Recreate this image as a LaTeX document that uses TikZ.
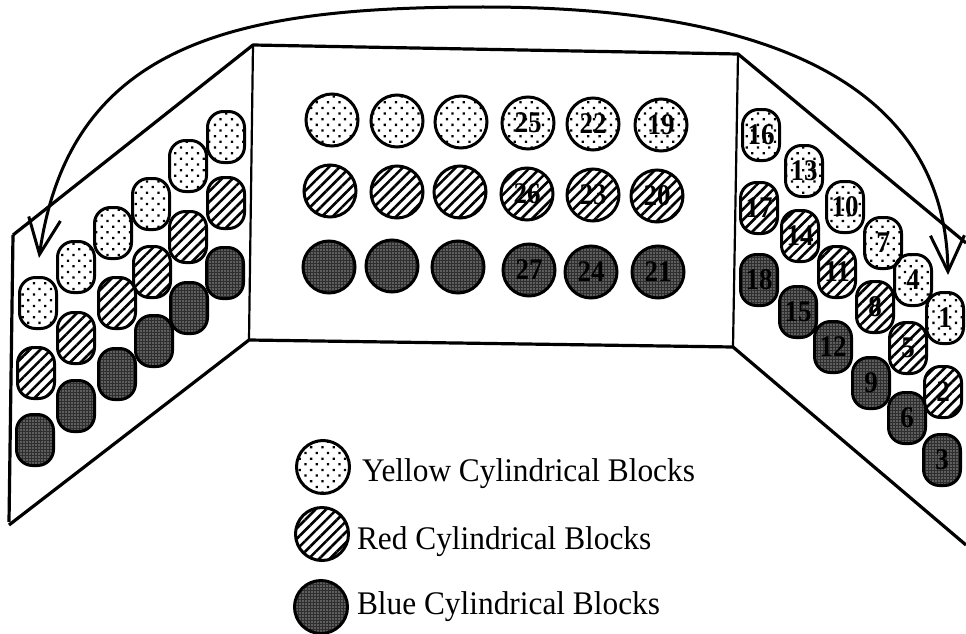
\documentclass[tikz,border=0pt]{standalone}
\usepackage{fontspec}
\setmainfont{Liberation Serif}
\newfontfamily\keyfont[FakeStretch=0.95]{Liberation Serif}
\newfontfamily\numfont[FakeStretch=0.9]{Liberation Serif}
\usetikzlibrary{patterns.meta,arrows.meta}

\begin{document}
\begin{tikzpicture}[x=1pt,y=-1pt,
  every node/.style={inner sep=0pt, outer sep=0pt},
  blk/.style={draw, line width=3pt, font=\numfont\bfseries\fontsize{30}{30}\selectfont},
  pill/.style={blk, rectangle, rounded corners=16pt, minimum width=37pt, minimum height=51pt},
  disc/.style={blk, circle, minimum size=52pt},
  yellowpat/.style={pattern={Dots[distance=8pt, radius=1.6pt, angle=45]}},
  redpat/.style={pattern={Lines[angle=45, distance=7.5pt, line width=2.6pt]}},
  bluepat/.style={preaction={fill=black!82}, pattern={Dots[distance=3pt, radius=0.7pt]}, pattern color=white},
  keytext/.style={anchor=base west, font=\keyfont\fontsize{33}{33}\selectfont},
  wall/.style={line width=3.2pt, line join=round},
  edge/.style={line width=2.2pt},
  turn/.style={line width=3pt, {Straight Barb[length=36pt, width=32pt]}-{Straight Barb[length=36pt, width=34pt]}}]
\useasboundingbox (0,0) rectangle (966,634);

% the three walls
\coordinate (lt) at (13,235);
\coordinate (lb) at (9,525);
\coordinate (mtl) at (253,45);
\coordinate (mtr) at (738,54);
\coordinate (mbl) at (249,340);
\coordinate (mbr) at (733,347);
\coordinate (rt) at (966,243);
\coordinate (rb) at (966,545);
\draw[wall] (lt) -- (mtl) -- (mtr) -- (rt);
\draw[wall] (lt) -- ([yshift=3pt]lb);
\draw[wall] (lb) -- (mbl) -- (mbr) -- (rb);
\draw[edge] (mtl) -- (mbl);
\draw[edge] (mtr) -- (mbr);

% left wall
\node[pill,yellowpat] (l1) at (38,303) {};
\node[pill,redpat] (l2) at (36,373) {};
\node[pill,bluepat] (l3) at (35,440) {};
\node[pill,yellowpat] (l4) at (76,267) {};
\node[pill,redpat] (l5) at (76,338) {};
\node[pill,bluepat] (l6) at (76,406) {};
\node[pill,yellowpat] (l7) at (113,233) {};
\node[pill,redpat] (l8) at (117,303) {};
\node[pill,bluepat] (l9) at (117,374) {};
\node[pill,yellowpat] (l10) at (151,204) {};
\node[pill,redpat] (l11) at (152,272) {};
\node[pill,bluepat] (l12) at (154,341) {};
\node[pill,yellowpat] (l13) at (188,166) {};
\node[pill,redpat] (l14) at (188,237) {};
\node[pill,bluepat] (l15) at (189,308) {};
\node[pill,yellowpat] (l16) at (226,137) {};
\node[pill,redpat] (l17) at (226,203) {};
\node[pill,bluepat] (l18) at (225,273) {};

% middle wall
\node[disc,yellowpat] (m1) at (332,120) {};
\node[disc,yellowpat] (m2) at (397,121) {};
\node[disc,yellowpat] (m3) at (461,122) {};
\node[disc,yellowpat] (b25) at (528,123) {25};
\node[disc,yellowpat] (b22) at (593,124) {22};
\node[disc,yellowpat] (b19) at (661,125) {19};
\node[disc,redpat] (m4) at (330,191) {};
\node[disc,redpat] (m5) at (397,192) {};
\node[disc,redpat] (m6) at (460,192) {};
\node[disc,redpat] (b26) at (527,194) {26};
\node[disc,redpat] (b23) at (593,195) {23};
\node[disc,redpat] (b20) at (657,196) {20};
\node[disc,bluepat] (m7) at (329,267) {};
\node[disc,bluepat] (m8) at (392,266) {};
\node[disc,bluepat] (m9) at (458,267) {};
\node[disc,bluepat] (b27) at (529,270) {27};
\node[disc,bluepat] (b24) at (591,272) {24};
\node[disc,bluepat] (b21) at (658,272) {21};

% right wall
\node[pill,yellowpat] (b16) at (761,135) {16};
\node[pill,yellowpat] (b13) at (804,171) {13};
\node[pill,yellowpat] (b10) at (845,207) {10};
\node[pill,yellowpat] (b7) at (883,243) {7};
\node[pill,yellowpat] (b4) at (913,280) {4};
\node[pill,yellowpat] (b1) at (945,318) {1};
\node[pill,redpat] (b17) at (759,208) {17};
\node[pill,redpat] (b14) at (800,236) {14};
\node[pill,redpat] (b11) at (837,272) {11};
\node[pill,redpat] (b8) at (875,307) {8};
\node[pill,redpat] (b5) at (908,348) {5};
\node[pill,redpat] (b2) at (943,392) {2};
\node[pill,bluepat] (b18) at (759,280) {18};
\node[pill,bluepat] (b15) at (798,312) {15};
\node[pill,bluepat] (b12) at (833,347) {12};
\node[pill,bluepat] (b9) at (871,383) {9};
\node[pill,bluepat] (b6) at (907,418) {6};
\node[pill,bluepat] (b3) at (942,460) {3};

% the turn over the top
\coordinate (tipL) at (39,258);
\coordinate (peak) at (483,7);
\coordinate (tipR) at (948,275);
\draw[turn] (tipL) .. controls (70,40) and (240,7) .. (peak) .. controls (720,7) and (945,60) .. (tipR);

% key
\node[disc,yellowpat,minimum size=53pt] (ky) at (323,467) {};
\node[disc,redpat,minimum size=53pt] (kr) at (322,534) {};
\node[disc,bluepat,minimum size=53pt] (kb) at (321,607) {};
\node[keytext] (ty) at (362,481) {Yellow Cylindrical Blocks};
\node[keytext] (tr) at (357,549) {Red Cylindrical Blocks};
\node[keytext] (tb) at (357,614) {Blue Cylindrical Blocks};
\end{tikzpicture}
\end{document}
